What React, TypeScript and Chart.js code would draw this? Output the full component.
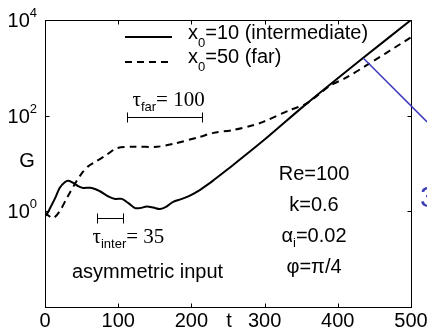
import React, { useEffect, useRef } from "react";
import { Chart, registerables } from "chart.js";

Chart.register(...registerables);

// x0 = 10 (intermediate) — solid
const solidT = [0, 2, 7, 14, 20, 27, 32, 39, 46, 52, 64, 75, 87, 96, 105, 114, 123, 130, 139, 148, 157, 166, 175, 187, 198, 212, 225, 231, 257, 300, 355, 434, 500];
const solidG = [0.8, 0.85, 1.17, 1.91, 3.09, 4.07, 4.37, 3.89, 3.31, 3.09, 3.09, 2.63, 2.04, 1.82, 1.82, 1.48, 1.17, 1.17, 1.26, 1.2, 1.12, 1.26, 1.58, 1.82, 2.14, 2.82, 3.89, 4.57, 9.3, 31.6, 166, 1585, 10000];

// x0 = 50 (far) — dashed
const dashedT = [0, 4, 11, 20, 30, 43, 52, 59, 66, 84, 98, 121, 153, 175, 212, 230, 257, 284, 298, 335, 357, 389, 412, 439, 494, 500];
const dashedG = [0.95, 0.83, 0.72, 1.0, 1.91, 4.27, 6.76, 8.71, 10.2, 15.1, 20.9, 22.4, 22.4, 25.7, 36.3, 43.7, 50.1, 63.1, 74.1, 132, 178, 417, 631, 1122, 3802, 4365];

const seriesLabels = ["10 (intermediate)", "50 (far)"];
const xTicks = [0, 100, 200, 300, 400, 500];
const yTickExps = [0, 2, 4];
const paramLines = ["Re=100", "k=0.6", "α|i|=0.02", "φ=π/4"];

// annotation anchors in data coordinates
const tauFar = { t0: 112, t1: 215, g: 93, label: "far", value: "100" };
const tauInter = { t0: 71, t1: 107, g: 0.72, label: "inter", value: "35" };
const blueLine = { t0: 435, g0: 1585, t1: 522, g1: 74 };

const SANS = (s: number) => `${s}px "Liberation Sans", Arial, Helvetica, sans-serif`;
const SERIF = (s: number) => `${s}px "Liberation Serif", "Times New Roman", serif`;

const overlay = {
  id: "overlay",
  afterDraw(chart: any) {
    const ctx: CanvasRenderingContext2D = chart.ctx;
    const { left, right, top, bottom } = chart.chartArea;
    const xs = chart.scales.x;
    const ys = chart.scales.y;
    const L = Math.round(left) + 0.5;
    const R = Math.round(right) + 0.5;
    const T = Math.round(top) + 0.5;
    const B = Math.round(bottom) + 0.5;
    ctx.save();
    ctx.strokeStyle = "#000";
    ctx.lineWidth = 1;
    ctx.setLineDash([]);
    ctx.strokeRect(L, T, R - L, B - T);

    // ticks (inward, mirrored)
    ctx.beginPath();
    xTicks.forEach((v) => {
      if (v === 0 || v === 500) return;
      const x = Math.round(xs.getPixelForValue(v)) + 0.5;
      ctx.moveTo(x, B);
      ctx.lineTo(x, B - 4);
      ctx.moveTo(x, T);
      ctx.lineTo(x, T + 4);
    });
    yTickExps.forEach((e) => {
      if (e === 4) return;
      const y = Math.round(ys.getPixelForValue(Math.pow(10, e))) + 0.5;
      ctx.moveTo(L, y);
      ctx.lineTo(L + 4, y);
      ctx.moveTo(R, y);
      ctx.lineTo(R - 4, y);
    });
    ctx.stroke();

    ctx.fillStyle = "#000";
    // x tick labels
    ctx.font = SANS(20);
    ctx.textAlign = "center";
    ctx.textBaseline = "alphabetic";
    xTicks.forEach((v) => {
      ctx.fillText(String(v), xs.getPixelForValue(v), 327);
    });
    // y tick labels 10^e
    yTickExps.forEach((e) => {
      const y = ys.getPixelForValue(Math.pow(10, e));
      ctx.font = SANS(13);
      const sw = ctx.measureText(String(e)).width;
      ctx.font = SANS(20);
      const bw = ctx.measureText("10").width;
      const x0 = 37 - sw - bw;
      ctx.textAlign = "left";
      ctx.fillText("10", x0, y + 7);
      ctx.font = SANS(13);
      ctx.fillText(String(e), x0 + bw, y - 3);
    });
    // axis labels
    ctx.font = SANS(20);
    ctx.textAlign = "center";
    ctx.fillText("G", 27, 167);
    ctx.fillText("t", 229, 327);

    // legend
    ctx.lineWidth = 2;
    ctx.beginPath();
    ctx.moveTo(125, 37);
    ctx.lineTo(172, 37);
    ctx.stroke();
    ctx.setLineDash([7, 5]);
    ctx.beginPath();
    ctx.moveTo(125, 62);
    ctx.lineTo(172, 62);
    ctx.stroke();
    ctx.setLineDash([]);
    const legendRow = (label: string, base: number) => {
      ctx.textAlign = "left";
      ctx.font = SANS(20);
      ctx.fillText("x", 188, base);
      let x = 188 + ctx.measureText("x").width;
      ctx.font = SANS(13);
      ctx.fillText("0", x, base + 8);
      x += ctx.measureText("0").width;
      ctx.font = SANS(20);
      ctx.fillText("=" + label, x, base);
    };
    legendRow(seriesLabels[0], 39);
    legendRow(seriesLabels[1], 63);

    // tau brackets
    const bracket = (a: any, tx: number, ty: number) => {
      const x0 = Math.round(xs.getPixelForValue(a.t0)) + 0.5;
      const x1 = Math.round(xs.getPixelForValue(a.t1)) + 0.5;
      const y = Math.round(ys.getPixelForValue(a.g)) + 0.5;
      ctx.lineWidth = 1;
      ctx.beginPath();
      ctx.moveTo(x0, y);
      ctx.lineTo(x1, y);
      ctx.moveTo(x0, y - 5);
      ctx.lineTo(x0, y + 5);
      ctx.moveTo(x1, y - 5);
      ctx.lineTo(x1, y + 5);
      ctx.stroke();
      const sx = x0 + tx;
      const sy = y + ty;
      ctx.textAlign = "left";
      ctx.font = SERIF(21);
      ctx.fillText("τ", sx, sy);
      let x = sx + ctx.measureText("τ").width;
      ctx.font = SANS(13);
      ctx.fillText(a.label, x, sy + 5);
      x += ctx.measureText(a.label).width;
      ctx.font = SERIF(21);
      ctx.fillText("= " + a.value, x, sy);
    };
    bracket(tauFar, 5, -12);
    bracket(tauInter, -5, 24);

    ctx.font = SANS(20);
    ctx.textAlign = "left";
    ctx.fillText("asymmetric input", 72, 278);

    // parameters
    const baselines = [180, 211, 242, 273];
    paramLines.forEach((line, i) => {
      const parts = line.split("|");
      ctx.font = SANS(20);
      if (parts.length === 1) {
        ctx.textAlign = "center";
        ctx.fillText(line, 314, baselines[i]);
      } else {
        const w0 = ctx.measureText(parts[0]).width;
        const w2 = ctx.measureText(parts[2]).width;
        ctx.font = SANS(13);
        const w1 = ctx.measureText(parts[1]).width;
        let x = 314 - (w0 + w1 + w2) / 2;
        ctx.textAlign = "left";
        ctx.font = SANS(20);
        ctx.fillText(parts[0], x, baselines[i]);
        x += w0;
        ctx.font = SANS(13);
        ctx.fillText(parts[1], x, baselines[i] + 5);
        x += w1;
        ctx.font = SANS(20);
        ctx.fillText(parts[2], x, baselines[i]);
      }
    });

    // blue pointer line and clipped label
    ctx.strokeStyle = "#3a3ab8";
    ctx.lineWidth = 1.5;
    ctx.beginPath();
    ctx.moveTo(xs.getPixelForValue(blueLine.t0), ys.getPixelForValue(blueLine.g0));
    ctx.lineTo(xs.getPixelForValue(blueLine.t1), ys.getPixelForValue(blueLine.g1));
    ctx.stroke();
    ctx.fillStyle = "#3a3ab8";
    ctx.font = SANS(30);
    ctx.textAlign = "left";
    ctx.fillText("3", 420, 207);
    ctx.restore();
  },
};

export default function App() {
  const ref = useRef<HTMLCanvasElement>(null);
  useEffect(() => {
    if (!ref.current) return;
    const chart = new Chart(ref.current, {
      type: "line",
      data: {
        datasets: [
          {
            label: "x0=" + seriesLabels[0],
            data: solidT.map((t, i) => ({ x: t, y: solidG[i] })),
            borderColor: "#000",
            borderWidth: 2,
            pointRadius: 0,
            tension: 0.3,
            fill: false,
          },
          {
            label: "x0=" + seriesLabels[1],
            data: dashedT.map((t, i) => ({ x: t, y: dashedG[i] })),
            borderColor: "#000",
            borderWidth: 2,
            borderDash: [7, 5],
            pointRadius: 0,
            tension: 0.3,
            fill: false,
          },
        ],
      },
      options: {
        responsive: false,
        animation: false,
        layout: { padding: { left: 45, right: 16, top: 20, bottom: 23 } },
        plugins: { legend: { display: false }, tooltip: { enabled: false } },
        scales: {
          x: { type: "linear", min: 0, max: 500, display: false },
          y: { type: "logarithmic", min: 0.01, max: 10000, display: false },
        },
      },
      plugins: [overlay],
    });
    return () => chart.destroy();
  }, []);
  return (
    <div style={{ position: "absolute", left: 0, top: 0, width: 427, height: 330, background: "#fff" }}>
      <canvas ref={ref} width={427} height={330} style={{ display: "block" }} />
    </div>
  );
}
